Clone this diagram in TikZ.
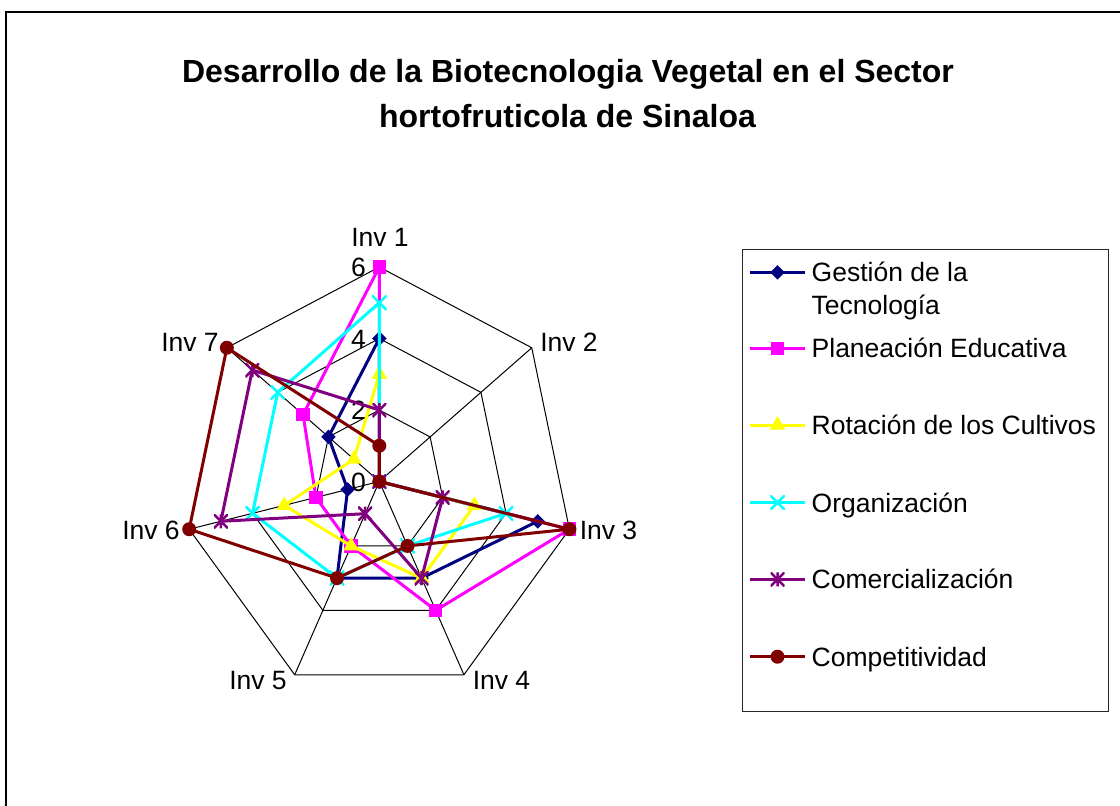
\documentclass[tikz,border=0pt]{standalone}
\usepackage{fontspec}
\setmainfont{Liberation Sans}
\usetikzlibrary{shapes.geometric}
\definecolor{navyc}{RGB}{0,0,128}
\definecolor{magc}{RGB}{255,0,255}
\definecolor{yelc}{RGB}{255,255,0}
\definecolor{cyanc}{RGB}{0,255,255}
\definecolor{purpc}{RGB}{128,0,128}
\definecolor{maroonc}{RGB}{128,0,0}
\newcommand{\labfont}{\fontsize{26.5}{32.7}\selectfont}
\newcommand{\titfont}{\fontsize{32}{40}\selectfont\bfseries}
\begin{document}
\begin{tikzpicture}[x=1pt,y=-1pt,
  gridline/.style={black, line width=1pt},
  ser/.style={line width=3pt, line join=round},
  mk/.style={inner sep=0pt, outer sep=0pt},
  mdia/.style={mk, diamond, fill=navyc, minimum width=14.5pt, minimum height=14.5pt},
  msq/.style={mk, rectangle, fill=magc, minimum size=13.5pt},
  mtri/.style={mk, regular polygon, regular polygon sides=3, fill=yelc, minimum size=18pt},
  mx/.style={mk, rectangle, minimum size=14.5pt,
    path picture={\draw[cyanc, line width=2.5pt]
      (path picture bounding box.north west) -- (path picture bounding box.south east)
      (path picture bounding box.north east) -- (path picture bounding box.south west);}},
  mstar/.style={mk, rectangle, minimum size=14pt,
    path picture={\draw[purpc, line width=2.5pt]
      (path picture bounding box.north west) -- (path picture bounding box.south east)
      (path picture bounding box.north east) -- (path picture bounding box.south west)
      (path picture bounding box.north) -- (path picture bounding box.south);}},
  mcirc/.style={mk, circle, fill=maroonc, minimum size=14pt},
  axlab/.style={inner sep=0pt, anchor=base, font=\labfont},
  ticklab/.style={inner sep=0pt, anchor=base east, font=\labfont},
  legtext/.style={inner sep=0pt, anchor=base west, font=\labfont},
  tit/.style={inner sep=0pt, anchor=base, font=\titfont}
]
\useasboundingbox (0,0) rectangle (1120,806);
\fill[white] (0,0) rectangle (1120,806);
% outer frame (right and bottom edges lie outside the image)
\draw[line width=2.2pt] (6,806) -- (6,12) -- (1120,12);

% title
\node[tit] (title1) at (568,82) {Desarrollo de la Biotecnologia Vegetal en el Sector};
\node[tit] (title2) at (567.5,127.5) {hortofruticola de Sinaloa};

% grid
\coordinate (o) at (379.3,481.5);
\foreach \r in {2,4,6}{
  \foreach \k in {0,...,6}{
    \coordinate (g\r-\k) at ({379.3+\r*32.5*sin(\k*360/7)},{481.5-\r*35.75*cos(\k*360/7)});
  }
  \draw[gridline] (g\r-0) -- (g\r-1) -- (g\r-2) -- (g\r-3) -- (g\r-4) -- (g\r-5) -- (g\r-6) -- cycle;
}
\foreach \k in {0,...,6}{ \draw[gridline] (o) -- (g6-\k); }

% axis labels
\node[axlab] (inv1) at (380,246.5) {Inv 1};
\node[axlab] (inv2) at (569,351.5) {Inv 2};
\node[axlab] (inv3) at (608.5,539.5) {Inv 3};
\node[axlab] (inv4) at (501.5,689.5) {Inv 4};
\node[axlab] (inv5) at (258,689.5) {Inv 5};
\node[axlab] (inv6) at (151,539.5) {Inv 6};
\node[axlab] (inv7) at (190,351.5) {Inv 7};

% tick labels
\foreach \v in {0,2,4,6}{
  \node[ticklab] (tick\v) at ({366},{481.5-\v*35.75+9.5}) {\v};
}

% data points
\foreach \s/\vals in {1/{4,0,5,3,3,1,2}, 2/{6,0,6,4,2,2,3}, 3/{3,0,3,3,2,3,1},
                      4/{5,0,4,2,3,4,4}, 5/{2,0,2,3,1,5,5}, 6/{1,0,6,2,3,6,6}}{
  \foreach \v [count=\k from 0] in \vals {
    \coordinate (p\s-\k) at ({379.3+\v*32.5*sin(\k*360/7)},{481.5-\v*35.75*cos(\k*360/7)});
  }
}

% series
\foreach \s/\col/\mks in {1/navyc/mdia, 2/magc/msq, 3/yelc/mtri, 4/cyanc/mx, 5/purpc/mstar, 6/maroonc/mcirc}{
  \draw[ser, \col] (p\s-0) -- (p\s-1) -- (p\s-2) -- (p\s-3) -- (p\s-4) -- (p\s-5) -- (p\s-6) -- cycle;
  \foreach \k in {0,...,6}{ \node[\mks] (m\s-\k) at (p\s-\k) {}; }
}

% legend
\node[draw=black!85, line width=1.2pt, anchor=north west, minimum width=366pt, minimum height=462pt, inner sep=0pt] (legend) at (742,249) {};
\foreach \s/\col/\mks/\yy in {1/navyc/mdia/272.3, 2/magc/msq/348.3, 3/yelc/mtri/425, 4/cyanc/mx/502.7, 5/purpc/mstar/579.3, 6/maroonc/mcirc/656.7}{
  \coordinate (la\s) at (750,\yy);
  \coordinate (lb\s) at (805,\yy);
  \draw[\col, line width=3pt] (la\s) -- (lb\s);
  \node[\mks] (lm\s) at (777.5,\yy) {};
}
\node[legtext] (lt1a) at (811.5,281.8) {Gestión de la};
\node[legtext] (lt1b) at (811.5,314.5) {Tecnología};
\node[legtext] (lt2) at (811.5,357.8) {Planeación Educativa};
\node[legtext] (lt3) at (811.5,434.5) {Rotación de los Cultivos};
\node[legtext] (lt4) at (811.5,512.2) {Organización};
\node[legtext] (lt5) at (811.5,588.8) {Comercialización};
\node[legtext] (lt6) at (811.5,666.2) {Competitividad};
\end{tikzpicture}
\end{document}
